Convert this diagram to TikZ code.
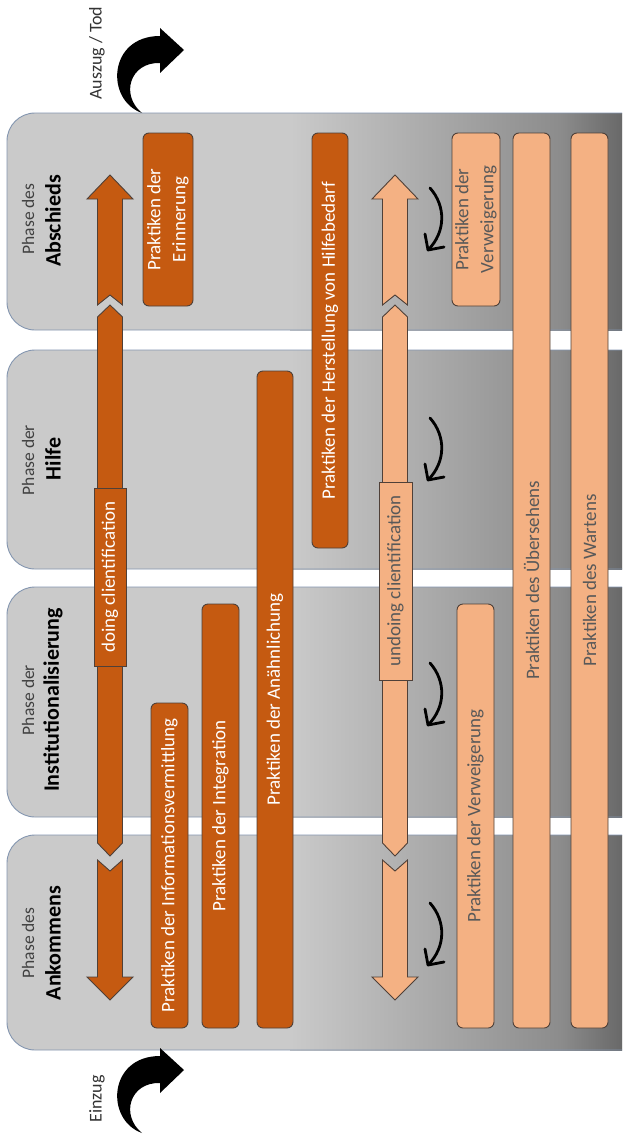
\documentclass[tikz,border=0pt]{standalone}
\usepackage{fontspec}
\setmainfont{Carlito}
\definecolor{dorange}{HTML}{C55A11}
\definecolor{lorange}{HTML}{F4B183}
\definecolor{bborder}{HTML}{4F4038}
\definecolor{ltext}{HTML}{595959}
\definecolor{panelgray}{HTML}{CACACA}
\definecolor{gmid}{HTML}{8C8C8C}
\definecolor{gdark}{HTML}{686868}
\definecolor{panelline}{HTML}{8496B0}
\newcommand\boxfont{\fontsize{19}{25}\selectfont}
\tikzset{
  basebox/.style={draw=bborder, line width=0.9pt, rounded corners=6pt, rotate=90, inner sep=0pt, align=center, font=\boxfont},
  darkbox/.style={basebox, fill=dorange, text=white},
  lightbox/.style={basebox, fill=lorange, text=ltext},
  arrowdark/.style={draw=bborder, line width=0.9pt, fill=dorange, line join=miter},
  arrowlight/.style={draw=bborder, line width=0.9pt, fill=lorange, line join=miter},
  arrowlbl/.style={draw=bborder, line width=0.9pt, rotate=90, inner sep=0pt, font=\boxfont},
  phsmall/.style={rotate=90, inner sep=0pt, text=black!75, font=\fontsize{17.5}{21}\selectfont},
  phbig/.style={rotate=90, inner sep=0pt, text=black, font=\fontsize{22}{26}\selectfont\bfseries},
  sidelbl/.style={rotate=90, font=\fontsize{18}{22}\selectfont, text=black!80},
  curl/.style={line width=2.8pt, line cap=round, line join=round, draw=black},
}
\newcommand\blockarrow[2]{%
  \begin{scope}[xshift=#1pt]
    \filldraw[#2] (0,175) -- (23,199) -- (12.5,199) -- (12.5,305) -- (0,295) -- (-12.5,305) -- (-12.5,199) -- (-23,199) -- cycle;
    \filldraw[#2] (0,305) -- (12.5,317) -- (12.5,843) -- (0,856) -- (-12.5,843) -- (-12.5,317) -- cycle;
    \filldraw[#2] (-12.5,860) -- (0,871) -- (12.5,860) -- (12.5,977) -- (23,977) -- (0,1000) -- (-23,977) -- (-12.5,977) -- cycle;
  \end{scope}}
\newcommand\smallcurl[1]{%
  \draw[curl] (430,#1) .. controls (446,#1+18) and (446,#1+44) .. (428,#1+62);
  \draw[curl] (425,#1+46) -- (428,#1+62) -- (444,#1+59);}
\newcommand\bigcurl[1]{%
  \begin{scope}[yshift=-#1pt]
    \fill[black] (142,113) .. controls (105,100) and (108,36) .. (160,36) -- (160,28) -- (184,50) -- (160,73) -- (160,63) .. controls (130,62) and (120,95) .. (142,113) -- cycle;
  \end{scope}}
\begin{document}
\begin{tikzpicture}[x=1pt,y=-1pt]
\useasboundingbox (0,0) rectangle (622,1140);
\clip (0,0) rectangle (622,1140);
\fill[white] (0,0) rectangle (622,1140);
% phase panels
\foreach \t/\b in {113/330, 350/569, 587/817, 835/1050}{
  \fill[panelgray, rounded corners=28pt] (7,\t) rectangle (680,\b);
  \shade[left color=panelgray, right color=gmid] (290,\t) rectangle (560,\b);
  \shade[left color=gmid, right color=gdark] (560,\t) rectangle (623,\b);
  \draw[panelline, line width=0.9pt, rounded corners=28pt] (7,\t) rectangle (680,\b);
}
% phase labels
\node[phsmall] (pa1) at (28,219) {Phase des};
\node[phbig]   (pa2) at (53,221) {Abschieds};
\node[phsmall] (ph1) at (28,460) {Phase der};
\node[phbig]   (ph2) at (53,459) {Hilfe};
\node[phsmall] (pi1) at (28,700) {Phase der};
\node[phbig]   (pi2) at (53,700) {Institutionalisierung};
\node[phsmall] (pk1) at (28,943) {Phase des};
\node[phbig]   (pk2) at (53,943) {Ankommens};
% entry / exit arrows
\bigcurl{0}
\bigcurl{1020}
\node[sidelbl] (aus) at (97,53) {Auszug / Tod};
\node[sidelbl] (ein) at (97,1099) {Einzug};
% block arrows
\blockarrow{110}{arrowdark}
\blockarrow{395}{arrowlight}
\node[arrowlbl, fill=dorange, text=white, minimum width=178pt, minimum height=32pt] (doing) at (110,577) {doing clientification};
\node[arrowlbl, fill=lorange, text=ltext, minimum width=198pt, minimum height=33pt] (undoing) at (395.5,581) {undoing clientification};
% dark boxes
\node[darkbox, minimum width=173pt, minimum height=50pt] (erin) at (168,219.5) {Praktiken der\\Erinnerung};
\node[darkbox, minimum width=415pt, minimum height=36pt] (herst) at (330,340.5) {Praktiken der Herstellung von Hilfebedarf};
\node[darkbox, minimum width=657pt, minimum height=36pt] (anae) at (275,699.5) {Praktiken der Anähnlichung};
\node[darkbox, minimum width=424pt, minimum height=37pt] (integ) at (220.5,816) {Praktiken der Integration};
\node[darkbox, minimum width=325pt, minimum height=37pt] (info) at (169.5,865.5) {Praktiken der Informationsvermittlung};
% light boxes
\node[lightbox, minimum width=173pt, minimum height=48pt] (verw1) at (476,219.5) {Praktiken der\\Verweigerung};
\node[lightbox, minimum width=424pt, minimum height=37pt] (verw2) at (475.5,816) {Praktiken der Verweigerung};
\node[lightbox, minimum width=895pt, minimum height=37pt] (ueber) at (531.5,580.5) {Praktiken des Übersehens};
\node[lightbox, minimum width=895pt, minimum height=37pt] (wart) at (589.5,580.5) {Praktiken des Wartens};
% small curved arrows
\smallcurl{188}
\smallcurl{418}
\smallcurl{663}
\smallcurl{903}
\end{tikzpicture}
\end{document}
